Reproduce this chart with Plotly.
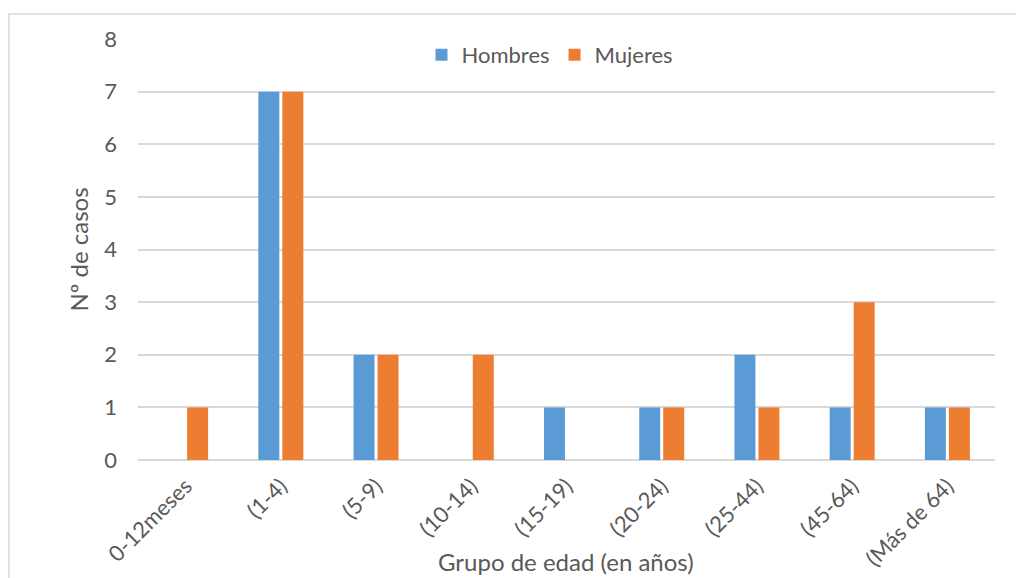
import plotly.graph_objects as go

categories = ["0-12meses", "(1-4)", "(5-9)", "(10-14)", "(15-19)", "(20-24)", "(25-44)", "(45-64)", "(Más de 64)"]
hombres = [0, 7, 2, 0, 1, 1, 2, 1, 1]
mujeres = [1, 7, 2, 2, 0, 1, 1, 3, 1]

FONT = "Lato"
GRAY = "#595959"

fig = go.Figure()
fig.add_trace(go.Bar(name="Hombres", x=categories, y=hombres, marker=dict(color="#5B9BD5", line=dict(width=0))))
fig.add_trace(go.Bar(name="Mujeres", x=categories, y=mujeres, marker=dict(color="#ED7D31", line=dict(width=0))))

# page has an 8px body margin; figure coordinates = page coordinates - 8
OFF = 8
W, H = 1024 - OFF, 578 - OFF
L = 138 - OFF
T = 39 - OFF
R = W - (995 - OFF)
B = H - (460 - OFF)
pw, ph = W - L - R, H - T - B

def px(x):
    return (x - OFF - L) / pw

def py(y):
    return (H - B - (y - OFF)) / ph

fig.update_layout(
    width=W, height=H,
    margin=dict(l=L, r=R, t=T, b=B, pad=0, autoexpand=False),
    paper_bgcolor="white", plot_bgcolor="white",
    barmode="group", bargap=0.496, bargroupgap=0.125,
    font=dict(family=FONT, color=GRAY, size=22),
    showlegend=True,
    legend=dict(orientation="h", x=px(550), xanchor="center", y=py(55), yanchor="middle",
                font=dict(size=22, color=GRAY), bgcolor="rgba(0,0,0,0)",
                traceorder="normal"),
    xaxis=dict(
        tickangle=-45, showgrid=False, showline=False, ticks="", zeroline=False,
        tickfont=dict(size=22, color=GRAY), ticklabelstandoff=8,
    ),
    yaxis=dict(
        range=[0, 8], dtick=1, showgrid=True, gridcolor="#D9D9D9", gridwidth=1.5,
        zeroline=True, zerolinecolor="#D9D9D9", zerolinewidth=1.5,
        showline=False, ticks="", tickfont=dict(size=22, color=GRAY), ticklabelstandoff=20,
        title=dict(text="Nº de casos", font=dict(size=24, color=GRAY), standoff=8),
    ),
    annotations=[dict(text="Grupo de edad (en años)", xref="paper", yref="paper",
                      x=px(566), y=py(561), xanchor="center", yanchor="middle",
                      showarrow=False, font=dict(size=24, color=GRAY))],
    shapes=[dict(type="rect", xref="paper", yref="paper",
                 x0=px(9), x1=px(1040),
                 y0=py(600), y1=py(14),
                 line=dict(color="#D9D9D9", width=1.5), fillcolor="rgba(0,0,0,0)", layer="below")],
)

fig.write_html("out.html")
